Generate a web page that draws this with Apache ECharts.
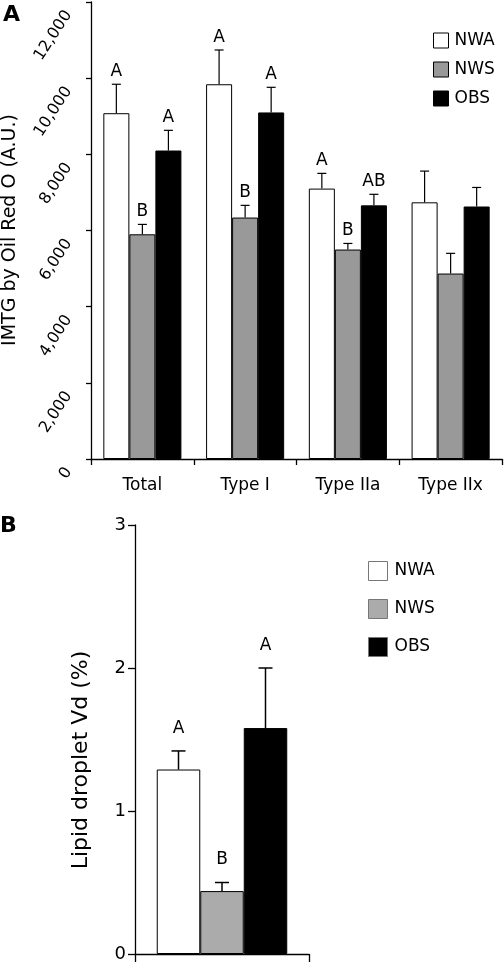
<!DOCTYPE html>
<html>
<head>
<meta charset="utf-8">
<script src="https://cdn.jsdelivr.net/npm/echarts@6/dist/echarts.min.js"></script>
<style>
html,body{margin:0;padding:0;background:#fff;}
#c{width:504px;height:964px;}
</style>
</head>
<body>
<div id="c"></div>
<script>
// ---------- Panel A data ----------
const categoriesA = ['Total', 'Type I', 'Type IIa', 'Type IIx'];
const groupNames = ['NWA', 'NWS', 'OBS'];
const nwaA = [9080, 9840, 7100, 6740];
const nwsA = [5900, 6340, 5500, 4870];
const obsA = [8100, 9100, 6660, 6630];
const nwaErrA = [760, 900, 400, 820];
const nwsErrA = [260, 320, 160, 530];
const obsErrA = [530, 660, 290, 500];
const nwaLetA = ['A', 'A', 'A', ''];
const nwsLetA = ['B', 'B', 'B', ''];
const obsLetA = ['A', 'A', 'AB', ''];
const yMinA = 0, yMaxA = 12000, yStepA = 2000;
const yTitleA = 'IMTG by Oil Red O (A.U.)';

// ---------- Panel B data ----------
const categoriesB = [''];
const nwaB = [1.29];
const nwsB = [0.44];
const obsB = [1.58];
const nwaErrB = [0.13];
const nwsErrB = [0.06];
const obsErrB = [0.42];
const nwaLetB = ['A'];
const nwsLetB = ['B'];
const obsLetB = ['A'];
const yMinB = 0, yMaxB = 3, yStepB = 1;
const yTitleB = 'Lipid droplet Vd (%)';

const FONT = 'DejaVu Sans';
const gapA = 0.24, gapB = 0.25;

function errSeries(name, axisIdx, k, gap, vals, errs, letters, opt) {
  return {
    type: 'custom',
    name: name,
    xAxisIndex: axisIdx,
    yAxisIndex: axisIdx,
    z: 5,
    silent: true,
    data: vals.map((v, i) => [i, v, errs[i]]),
    renderItem: function (params, api) {
      const ci = api.value(0), v = api.value(1), e = api.value(2);
      const p0 = api.coord([ci, v]);
      const p1 = api.coord([ci, v + e]);
      const band = api.size([1, 0])[0];
      const bw = band * (1 - gap) / 3;
      const cx = p0[0] + (k - 1) * bw;
      const children = [
        {type: 'line', shape: {x1: cx, y1: p0[1], x2: cx, y2: p1[1]},
         style: {stroke: '#000', lineWidth: opt.lw}},
        {type: 'line', shape: {x1: cx - opt.cap / 2, y1: p1[1], x2: cx + opt.cap / 2, y2: p1[1]},
         style: {stroke: '#000', lineWidth: opt.lw}}
      ];
      const t = letters[params.dataIndex];
      if (t) {
        children.push({type: 'text', style: {
          text: t, x: cx, y: p1[1] - opt.off, align: 'center', verticalAlign: 'bottom',
          fontSize: opt.fs, fontFamily: FONT, fill: '#000'}});
      }
      return {type: 'group', children: children};
    }
  };
}

function barSeries(name, axisIdx, vals, color, gap) {
  return {
    type: 'bar',
    name: name,
    xAxisIndex: axisIdx,
    yAxisIndex: axisIdx,
    data: vals,
    barGap: '0%',
    barCategoryGap: (gap * 100) + '%',
    itemStyle: {color: color, borderColor: '#000', borderWidth: 1},
    emphasis: {disabled: true},
    animation: false
  };
}

const optA = {lw: 1.2, cap: 9, off: 4, fs: 17};
const optB = {lw: 1.5, cap: 14, off: 14, fs: 17};

const axisLineStyle = {show: true, lineStyle: {color: '#000', width: 1.3}};

const chart = echarts.init(document.getElementById('c'), null, {renderer: 'canvas'});
chart.setOption({
  animation: false,
  backgroundColor: '#fff',
  textStyle: {fontFamily: FONT},
  grid: [
    {left: 91, top: 2, width: 411, height: 457},
    {left: 135, top: 525, width: 174, height: 429}
  ],
  xAxis: [
    {type: 'category', gridIndex: 0, data: categoriesA,
     axisLine: axisLineStyle,
     axisTick: {show: true, inside: false, length: 6, lineStyle: {color: '#000', width: 1.3}},
     axisLabel: {color: '#000', fontSize: 17, fontFamily: FONT, margin: 18}},
    {type: 'category', gridIndex: 1, data: categoriesB,
     axisLine: axisLineStyle,
     axisTick: {show: true, inside: false, length: 8, lineStyle: {color: '#000', width: 1.3}},
     axisLabel: {show: false}}
  ],
  yAxis: [
    {type: 'value', gridIndex: 0, min: yMinA, max: yMaxA, interval: yStepA,
     axisLine: axisLineStyle,
     axisTick: {show: true, inside: false, length: 5, lineStyle: {color: '#000', width: 1.3}},
     splitLine: {show: false},
     axisLabel: {color: '#000', fontSize: 16, fontFamily: FONT, rotate: 57, margin: 16,
       padding: [0, 12, 0, 0],
       formatter: v => v.toLocaleString('en-US')}},
    {type: 'value', gridIndex: 1, min: yMinB, max: yMaxB, interval: yStepB,
     axisLine: axisLineStyle,
     axisTick: {show: true, inside: false, length: 7, lineStyle: {color: '#000', width: 1.3}},
     splitLine: {show: false},
     axisLabel: {color: '#000', fontSize: 18, fontFamily: FONT, margin: 9}}
  ],
  legend: [
    {orient: 'vertical', left: 433, top: 32, padding: 0, itemWidth: 15, itemHeight: 15, itemGap: 12,
     icon: 'rect', selectedMode: false,
     textStyle: {fontSize: 17, fontFamily: FONT, color: '#000', padding: [0, 0, 0, 1]},
     data: [
       {name: 'NWA', itemStyle: {color: '#fff', borderColor: '#000', borderWidth: 1}},
       {name: 'NWS', itemStyle: {color: '#999', borderColor: '#000', borderWidth: 1}},
       {name: 'OBS', itemStyle: {color: '#000', borderColor: '#000', borderWidth: 1}}
     ]},
    {orient: 'vertical', left: 368, top: 561, padding: 0, itemWidth: 19, itemHeight: 19, itemGap: 18,
     icon: 'rect', selectedMode: false,
     textStyle: {fontSize: 17, fontFamily: FONT, color: '#000', padding: [0, 0, 0, 2]},
     data: [
       {name: 'NWA', itemStyle: {color: '#fff', borderColor: '#777', borderWidth: 1}},
       {name: 'NWS', itemStyle: {color: '#ababab', borderColor: '#777', borderWidth: 1}},
       {name: 'OBS', itemStyle: {color: '#000', borderColor: '#777', borderWidth: 1}}
     ]}
  ],
  graphic: [
    {type: 'text', left: 3, top: 4, style: {text: 'A', fontSize: 22, fontWeight: 'bold', fontFamily: FONT, fill: '#000'}},
    {type: 'text', left: 0, top: 515, style: {text: 'B', fontSize: 22, fontWeight: 'bold', fontFamily: FONT, fill: '#000'}},
    {type: 'text', x: 10, y: 230, rotation: Math.PI / 2,
     style: {text: yTitleA, fontSize: 19, fontFamily: FONT, fill: '#000', align: 'center', verticalAlign: 'middle'}},
    {type: 'text', x: 81, y: 760, rotation: Math.PI / 2,
     style: {text: yTitleB, fontSize: 22, fontFamily: FONT, fill: '#000', align: 'center', verticalAlign: 'middle'}}
  ],
  series: [
    barSeries('NWA', 0, nwaA, '#fff', gapA),
    barSeries('NWS', 0, nwsA, '#999', gapA),
    barSeries('OBS', 0, obsA, '#000', gapA),
    errSeries('NWA', 0, 0, gapA, nwaA, nwaErrA, nwaLetA, optA),
    errSeries('NWS', 0, 1, gapA, nwsA, nwsErrA, nwsLetA, optA),
    errSeries('OBS', 0, 2, gapA, obsA, obsErrA, obsLetA, optA),
    barSeries('NWA', 1, nwaB, '#fff', gapB),
    barSeries('NWS', 1, nwsB, '#ababab', gapB),
    barSeries('OBS', 1, obsB, '#000', gapB),
    errSeries('NWA', 1, 0, gapB, nwaB, nwaErrB, nwaLetB, optB),
    errSeries('NWS', 1, 1, gapB, nwsB, nwsErrB, nwsLetB, optB),
    errSeries('OBS', 1, 2, gapB, obsB, obsErrB, obsLetB, optB)
  ]
});
</script>
</body>
</html>
